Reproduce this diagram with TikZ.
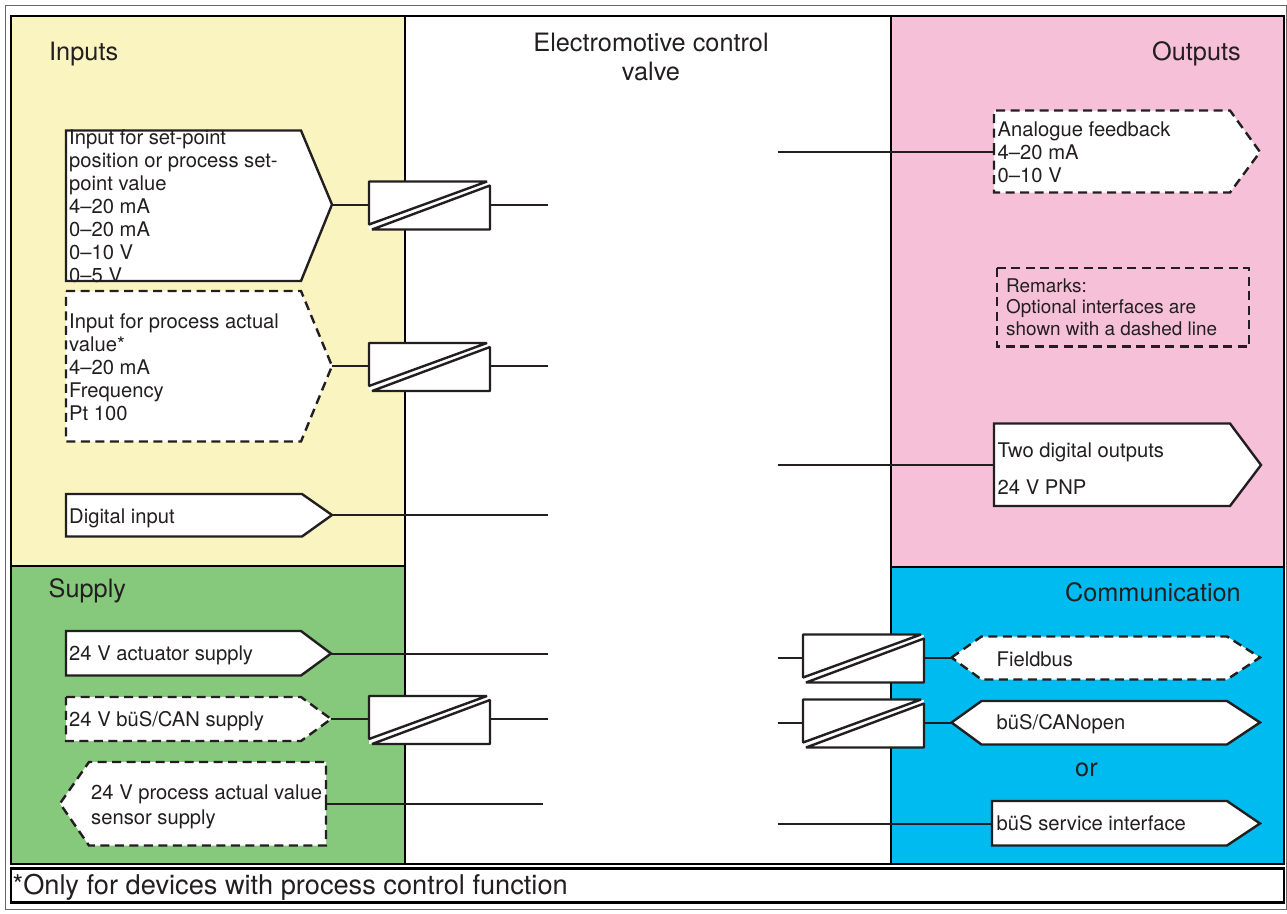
\documentclass[tikz,border=0pt]{standalone}
\usepackage{fontspec}
\setmainfont{TeX Gyre Heros}
\definecolor{ink}{HTML}{231F20}
\definecolor{yel}{HTML}{FAF4C0}
\definecolor{pnk}{HTML}{F6C0D8}
\definecolor{grn}{HTML}{86C87C}
\definecolor{blu}{HTML}{00BBEF}
\newcommand\convbox[3]{% name, left x, centre y
  \coordinate (#1W) at (#2,#3);
  \coordinate (#1E) at (#2+121,#3);
  \fill[white] (#2,#3-23) rectangle (#2+121,#3+25);
  \draw[cv] (#2,#3-23) -- (#2+118,#3-23) -- (#2,#3+20) -- cycle;
  \draw[cv] (#2+3,#3+25) -- (#2+121,#3+25) -- (#2+121,#3-19) -- cycle;
}
\begin{document}
\begin{tikzpicture}[x=1pt,y=-1pt,
  frame/.style={draw=black, line width=2.8pt},
  bx/.style={draw=ink, line width=2.4pt, fill=white, line join=miter},
  opt/.style={bx, dash pattern=on 9pt off 5.5pt},
  cv/.style={draw=ink, line width=2.4pt, line join=bevel},
  wire/.style={draw=ink, line width=2pt},
  lbl/.style={inner sep=0pt, anchor=base west, text=ink, font=\fontsize{20.2}{24}\selectfont},
  small/.style={lbl, font=\fontsize{18.9}{22}\selectfont},
  head/.style={inner sep=0pt, text=ink, font=\fontsize{25.3}{30}\selectfont},
]
\useasboundingbox (0,0) rectangle (1287,913);
\fill[white] (0,0) rectangle (1287,913);
% outer thin frame
\draw[draw=black!60, line width=1pt] (5,5) rectangle (1286,909);
% panels
\fill[yel] (11,16) rectangle (405,566);
\fill[grn] (11,566) rectangle (405,864);
\fill[pnk] (891,16) rectangle (1284,567);
\fill[blu] (891,567) rectangle (1284,864);
\draw[frame] (11,16) rectangle (1284,864);
\draw[frame] (405,16) -- (405,864);
\draw[frame] (891,16) -- (891,864);
\draw[frame] (11,566) -- (405,566);
\draw[frame] (891,567) -- (1284,567);
% footer
\draw[draw=black, line width=2.4pt] (11,868.5) rectangle (1284,902.5);
\node[lbl, font=\fontsize{27.2}{32}\selectfont] (foot) at (12.5,894) {*Only for devices with process control function};

% headings
\node[head, anchor=base west] (hIn) at (49,60) {Inputs};
\node[head, anchor=base west] (hSu) at (48.5,597.5) {Supply};
\node[head, anchor=base east] (hOut) at (1241,60) {Outputs};
\node[head, anchor=base east] (hCom) at (1241,601) {Communication};
\node[head, anchor=base] (hV1) at (651,51.5) {Electromotive control};
\node[head, anchor=base] (hV2) at (651,80.5) {valve};
\node[head, anchor=base west] (or) at (1075,776) {or};

% free stub ends in the valve area
\coordinate (m1) at (548,204.5);
\coordinate (m2) at (548,366);
\coordinate (m3) at (548,515);
\coordinate (m4) at (548,653.5);
\coordinate (m5) at (548,719);
\coordinate (m6) at (543,803.5);
\coordinate (m7) at (777.5,152);
\coordinate (m8) at (777.5,465);
\coordinate (m9) at (777.5,657.5);
\coordinate (m10) at (777.5,722.5);
\coordinate (m11) at (777.5,823.5);

% box connection points
\coordinate (spT) at (332,204.5);
\coordinate (paT) at (332,366);
\coordinate (diT) at (332,515);
\coordinate (acT) at (331,653.5);
\coordinate (bcT) at (331,719);
\coordinate (ssE) at (326,803.5);
\coordinate (afW) at (994,152);
\coordinate (doW) at (994,465);
\coordinate (fbW) at (951.5,657.5);
\coordinate (coW) at (951.5,722.5);
\coordinate (siW) at (992,823.5);

% converters
\convbox{ca}{369}{204.5}
\convbox{cb}{369}{366}
\convbox{cc}{369}{719}
\convbox{cd}{803}{657.5}
\convbox{ce}{803}{722.5}

% wires
\draw[wire] (spT) -- (caW);
\draw[wire] (caE) -- (m1);
\draw[wire] (paT) -- (cbW);
\draw[wire] (cbE) -- (m2);
\draw[wire] (diT) -- (m3);
\draw[wire] (acT) -- (m4);
\draw[wire] (bcT) -- (ccW);
\draw[wire] (ccE) -- (m5);
\draw[wire] (ssE) -- (m6);
\draw[wire] (m7) -- (afW);
\draw[wire] (m8) -- (doW);
\draw[wire] (m9) -- (cdW);
\draw[wire] (cdE) -- (fbW);
\draw[wire] (m10) -- (ceW);
\draw[wire] (ceE) -- (coW);
\draw[wire] (m11) -- (siW);

% input boxes
\draw[bx] (66,130.5) -- (301,130.5) -- (spT) -- (301,281) -- (66,281) -- cycle;
\draw[opt] (66,291) -- (301,291) -- (paT) -- (301,441.5) -- (66,441.5) -- cycle;
\draw[bx] (66,494) -- (302,494) -- (diT) -- (302,536.5) -- (66,536.5) -- cycle;
% supply boxes
\draw[bx] (66,631) -- (301,631) -- (acT) -- (301,675.5) -- (66,675.5) -- cycle;
\draw[opt] (66,697) -- (301,697) -- (bcT) -- (301,741) -- (66,741) -- cycle;
\draw[opt] (ssE) -- (326,762) -- (89,762) -- (60,803.5) -- (89,845.5) -- (326,845.5) -- cycle;
% output boxes
\draw[opt] (afW) -- (994,110.5) -- (1230,110.5) -- (1260,152) -- (1230,192.5) -- (994,192.5) -- cycle;
\draw[draw=ink, line width=2.4pt, dash pattern=on 9pt off 5.5pt] (997,268) rectangle (1249,346.5);
\draw[bx] (doW) -- (994,423.5) -- (1230,423.5) -- (1261,465) -- (1230,506) -- (994,506) -- cycle;
% communication boxes
\draw[opt] (fbW) -- (981.5,636.5) -- (1227,636.5) -- (1260,657.5) -- (1227,679.5) -- (981.5,679.5) -- cycle;
\draw[bx] (coW) -- (981.5,701) -- (1227,701) -- (1260,722.5) -- (1227,744.5) -- (981.5,744.5) -- cycle;
\draw[bx] (siW) -- (992,801) -- (1227,801) -- (1260,823.5) -- (1227,845.5) -- (992,845.5) -- cycle;

% texts
\foreach \t [count=\i] in {Input for set-point, position or process set-, point value, 4–20 mA, 0–20 mA, 0–10 V, 0–5 V}
  \node[lbl] (sp\i) at (69,{144+23*(\i-1)}) {\t};
\foreach \t [count=\i] in {Input for process actual, value*, 4–20 mA, Frequency, Pt 100}
  \node[lbl] (pa\i) at (69,{328+23.2*(\i-1)}) {\t};
\node[lbl] (di) at (69,523) {Digital input};
\node[lbl] (ac) at (69,660.5) {24 V actuator supply};
\node[lbl] (bc) at (69,726) {24 V büS/CAN supply};
\node[lbl] (ss1) at (91,799.5) {24 V process actual value};
\node[lbl] (ss2) at (91,824) {sensor supply};
\foreach \t [count=\i] in {Analogue feedback, 4–20 mA, 0–10 V}
  \node[lbl] (af\i) at (997.5,{136.5+23*(\i-1)}) {\t};
\foreach \t [count=\i] in {Remarks:, Optional interfaces are, shown with a dashed line}
  \node[small] (rm\i) at (1006,{292+21.5*(\i-1)}) {\t};
\node[lbl] (do1) at (997.5,457) {Two digital outputs};
\node[lbl] (do2) at (997.5,494) {24 V PNP};
\node[lbl] (fb) at (996.5,666.5) {Fieldbus};
\node[lbl] (co) at (996.5,729.5) {büS/CANopen};
\node[lbl] (si) at (996.5,830.5) {büS service interface};
\end{tikzpicture}
\end{document}
